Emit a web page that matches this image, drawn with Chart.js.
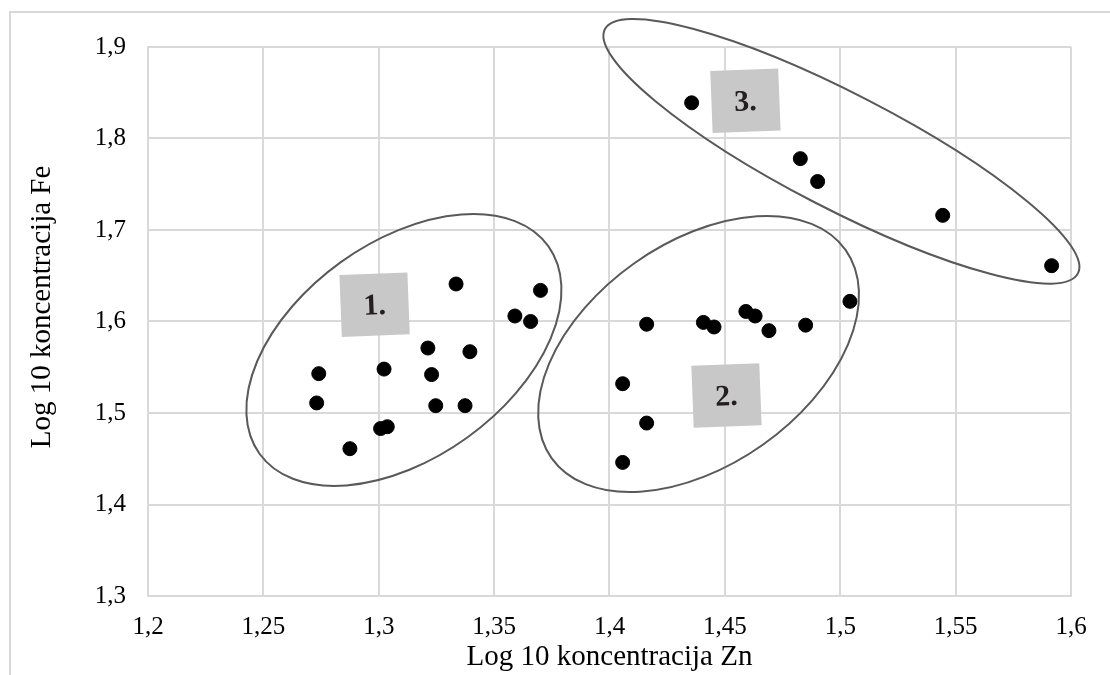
<!DOCTYPE html>
<html>
<head>
<meta charset="utf-8">
<script src="https://cdn.jsdelivr.net/npm/chart.js@4.4.0/dist/chart.umd.min.js"></script>
<style>
  html, body { margin: 0; padding: 0; background: #fff; }
</style>
</head>
<body>
<canvas id="myChart" width="1110" height="675"></canvas>
<script>
// Log10 Zn (x) / Log10 Fe (y) for each sample
const znValues = [
  1.2740, 1.2731, 1.2875, 1.3008, 1.3037, 1.3023, 1.3213, 1.3229, 1.3247, 1.3335, 1.3374, 1.3395, 1.3590, 1.3658, 1.3701,
  1.4057, 1.4057, 1.4161, 1.4161, 1.4407, 1.4453, 1.4591, 1.4631, 1.4691, 1.4850, 1.5042,
  1.4356, 1.4827, 1.4902, 1.5444, 1.5916
];
const feValues = [
  1.543, 1.511, 1.461, 1.483, 1.485, 1.548, 1.571, 1.542, 1.508, 1.641, 1.508, 1.567, 1.606, 1.600, 1.634,
  1.532, 1.446, 1.597, 1.489, 1.599, 1.594, 1.611, 1.606, 1.590, 1.596, 1.622,
  1.839, 1.778, 1.753, 1.716, 1.661
];

const xTicks = [1.2, 1.25, 1.3, 1.35, 1.4, 1.45, 1.5, 1.55, 1.6];
const xTickLabels = ['1,2', '1,25', '1,3', '1,35', '1,4', '1,45', '1,5', '1,55', '1,6'];
const yTicks = [1.3, 1.4, 1.5, 1.6, 1.7, 1.8, 1.9];
const yTickLabels = ['1,3', '1,4', '1,5', '1,6', '1,7', '1,8', '1,9'];

const xTitle = 'Log 10 koncentracija Zn';
const yTitle = 'Log 10 koncentracija Fe';

// the three groups circled on the chart
const groupNames = ['1.', '2.', '3.'];
const groupCenterZn = [1.3109, 1.4386, 1.5005];
const groupCenterFe = [1.5689, 1.5645, 1.7860];
const groupLabelZn = [1.2982, 1.4507, 1.4589];
const groupLabelFe = [1.6184, 1.5191, 1.8413];
const ringA = [177.8, 180.1, 266.2];   // semi axes in px
const ringB = [108.1, 111.2, 57.6];
const ringTilt = [-35.7, -35.3, 27.3]; // degrees

const serif = '"Liberation Serif", "Times New Roman", serif';

const groupsPlugin = {
  id: 'groups',
  beforeDraw(chart) {
    const ctx = chart.ctx;
    ctx.save();
    // outer frame of the chart object
    ctx.strokeStyle = '#d9d9d9';
    ctx.lineWidth = 2;
    ctx.beginPath();
    ctx.moveTo(10, 700);
    ctx.lineTo(10, 12);
    ctx.lineTo(1120, 12);
    ctx.stroke();

    // axis titles
    ctx.fillStyle = '#000';
    ctx.font = '29px ' + serif;
    ctx.textAlign = 'center';
    ctx.textBaseline = 'alphabetic';
    ctx.fillText(xTitle, (chart.chartArea.left + chart.chartArea.right) / 2, 665);
    ctx.translate(50, 307);
    ctx.rotate(-Math.PI / 2);
    ctx.fillText(yTitle, 0, 0);
    ctx.restore();
  },
  beforeDatasetsDraw(chart) {
    const { ctx, scales: { x, y } } = chart;
    ctx.save();
    groupNames.forEach((name, i) => {
      ctx.beginPath();
      ctx.ellipse(x.getPixelForValue(groupCenterZn[i]), y.getPixelForValue(groupCenterFe[i]),
        ringA[i], ringB[i], ringTilt[i] * Math.PI / 180, 0, 2 * Math.PI);
      ctx.strokeStyle = '#595959';
      ctx.lineWidth = 2;
      ctx.stroke();
    });
    groupNames.forEach((name, i) => {
      ctx.save();
      ctx.translate(x.getPixelForValue(groupLabelZn[i]), y.getPixelForValue(groupLabelFe[i]));
      ctx.rotate(-2.2 * Math.PI / 180);
      ctx.fillStyle = '#c8c8c9';
      ctx.fillRect(-34, -31, 68, 62);
      ctx.fillStyle = '#231f20';
      ctx.font = 'bold 30px ' + serif;
      ctx.textAlign = 'center';
      ctx.textBaseline = 'middle';
      ctx.fillText(name, 0, 2);
      ctx.restore();
    });
    ctx.restore();
  }
};

const chart = new Chart(
  document.getElementById('myChart'),
  {
    type: 'scatter',
    data: {
      datasets: [
        {
          data: znValues.map((v, i) => ({ x: v, y: feValues[i] })),
          backgroundColor: '#000',
          borderColor: '#000',
          borderWidth: 1,
          pointRadius: 7,
          pointHoverRadius: 7,
        },
      ],
    },
    options: {
      responsive: false,
      animation: false,
      layout: {
        padding: { left: 0, top: 47, right: 39, bottom: 0 },
      },
      plugins: {
        legend: { display: false },
        tooltip: { enabled: false },
      },
      scales: {
        x: {
          type: 'linear',
          min: 1.2,
          max: 1.6,
          afterFit: s => { s.height = 79; },
          afterBuildTicks: s => { s.ticks = xTicks.map(v => ({ value: v })); },
          grid: { color: '#d9d9d9', lineWidth: 2, drawTicks: false },
          border: { color: '#d9d9d9', width: 2 },
          ticks: {
            padding: 16,
            color: '#000',
            maxRotation: 0,
            autoSkip: false,
            font: { family: serif, size: 25 },
            callback: (v, i) => xTickLabels[i],
          },
        },
        y: {
          type: 'linear',
          min: 1.3,
          max: 1.9,
          afterFit: s => { s.width = 148; },
          afterBuildTicks: s => { s.ticks = yTicks.map(v => ({ value: v })); },
          grid: { color: '#d9d9d9', lineWidth: 2, drawTicks: false },
          border: { color: '#d9d9d9', width: 2 },
          ticks: {
            padding: 22,
            color: '#000',
            autoSkip: false,
            font: { family: serif, size: 25 },
            callback: (v, i) => yTickLabels[i],
          },
        },
      },
    },
    plugins: [groupsPlugin],
  }
);
</script>
</body>
</html>
